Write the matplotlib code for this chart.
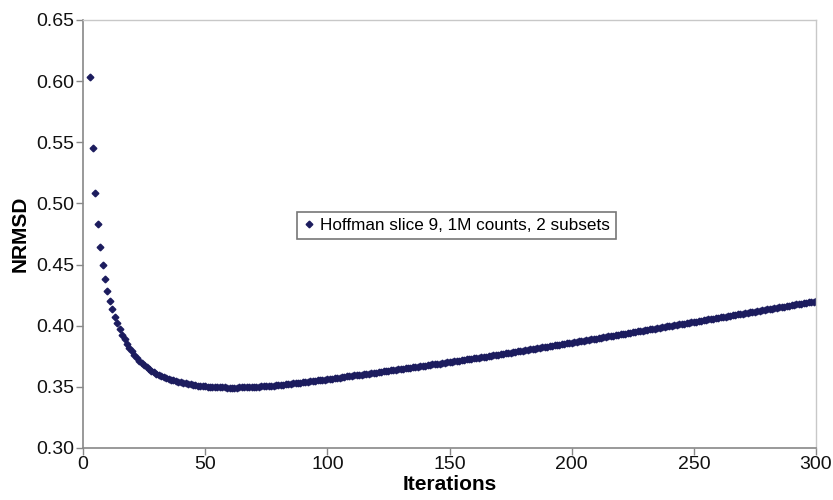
import matplotlib
matplotlib.use('Agg')
from matplotlib import pyplot as plt

# NRMSD per iteration (iterations 3..300)
iterations = list(range(3, 301))
nrmsd = [
    0.6030, 0.5450, 0.5085, 0.4830, 0.4643, 0.4500, 0.4385, 0.4287,
    0.4205, 0.4136, 0.4074, 0.4020, 0.3970, 0.3927, 0.3888, 0.3853, 0.3820, 0.3790,
    0.3762, 0.3737, 0.3714, 0.3694, 0.3676, 0.3660, 0.3645, 0.3632, 0.3620, 0.3609,
    0.3599, 0.3590, 0.3582, 0.3574, 0.3567, 0.3560, 0.3554, 0.3548, 0.3542, 0.3537,
    0.3532, 0.3528, 0.3524, 0.3520, 0.3517, 0.3514, 0.3511, 0.3508, 0.3506, 0.3504,
    0.3502, 0.3500, 0.3499, 0.3498, 0.3497, 0.3496, 0.3495, 0.3495, 0.3494, 0.3494,
    0.3494, 0.3494, 0.3494, 0.3495, 0.3495, 0.3496, 0.3497, 0.3497, 0.3498, 0.3499,
    0.3500, 0.3501, 0.3503, 0.3504, 0.3506, 0.3508, 0.3509, 0.3511, 0.3513, 0.3515,
    0.3517, 0.3519, 0.3521, 0.3524, 0.3526, 0.3528, 0.3531, 0.3533, 0.3535, 0.3538,
    0.3540, 0.3543, 0.3545, 0.3548, 0.3550, 0.3553, 0.3555, 0.3558, 0.3560, 0.3563,
    0.3566, 0.3568, 0.3571, 0.3574, 0.3576, 0.3579, 0.3582, 0.3585, 0.3587, 0.3590,
    0.3593, 0.3595, 0.3598, 0.3601, 0.3604, 0.3606, 0.3609, 0.3612, 0.3614, 0.3617,
    0.3620, 0.3623, 0.3626, 0.3628, 0.3631, 0.3634, 0.3637, 0.3640, 0.3642, 0.3645,
    0.3648, 0.3651, 0.3654, 0.3657, 0.3660, 0.3662, 0.3665, 0.3668, 0.3671, 0.3674,
    0.3677, 0.3680, 0.3683, 0.3686, 0.3689, 0.3691, 0.3694, 0.3697, 0.3700, 0.3703,
    0.3706, 0.3709, 0.3712, 0.3715, 0.3718, 0.3721, 0.3724, 0.3727, 0.3730, 0.3733,
    0.3736, 0.3739, 0.3742, 0.3745, 0.3748, 0.3752, 0.3755, 0.3758, 0.3761, 0.3764,
    0.3767, 0.3770, 0.3774, 0.3777, 0.3780, 0.3783, 0.3786, 0.3790, 0.3793, 0.3796,
    0.3799, 0.3803, 0.3806, 0.3809, 0.3812, 0.3816, 0.3819, 0.3822, 0.3826, 0.3829,
    0.3832, 0.3836, 0.3839, 0.3842, 0.3845, 0.3849, 0.3852, 0.3855, 0.3859, 0.3862,
    0.3865, 0.3869, 0.3872, 0.3875, 0.3879, 0.3882, 0.3885, 0.3889, 0.3892, 0.3895,
    0.3898, 0.3902, 0.3905, 0.3909, 0.3912, 0.3915, 0.3919, 0.3922, 0.3926, 0.3929,
    0.3932, 0.3936, 0.3939, 0.3943, 0.3946, 0.3949, 0.3953, 0.3956, 0.3960, 0.3963,
    0.3966, 0.3970, 0.3973, 0.3977, 0.3980, 0.3983, 0.3987, 0.3990, 0.3994, 0.3997,
    0.4000, 0.4004, 0.4007, 0.4011, 0.4014, 0.4017, 0.4021, 0.4024, 0.4028, 0.4031,
    0.4034, 0.4038, 0.4041, 0.4045, 0.4048, 0.4051, 0.4055, 0.4058, 0.4062, 0.4065,
    0.4068, 0.4072, 0.4075, 0.4079, 0.4082, 0.4085, 0.4089, 0.4092, 0.4096, 0.4099,
    0.4102, 0.4106, 0.4109, 0.4113, 0.4116, 0.4119, 0.4123, 0.4126, 0.4130, 0.4133,
    0.4136, 0.4140, 0.4143, 0.4147, 0.4150, 0.4153, 0.4157, 0.4160, 0.4164, 0.4167,
    0.4170, 0.4174, 0.4177, 0.4181, 0.4184, 0.4187, 0.4191, 0.4194, 0.4198, 0.4201,
]
x_ticks = [0, 50, 100, 150, 200, 250, 300]
y_ticks = [0.30, 0.35, 0.40, 0.45, 0.50, 0.55, 0.60, 0.65]
series_label = 'Hoffman slice 9, 1M counts, 2 subsets'

plt.rcParams['font.family'] = ['Liberation Sans', 'DejaVu Sans']

fig = plt.figure(figsize=(8.33, 5), dpi=100)
ax = fig.add_axes([83 / 833, 1 - 448 / 500, 733 / 833, 428 / 500])

ax.plot(iterations, nrmsd, linestyle='none', marker='D', markersize=3.4,
        color='#1c1c5e', label=series_label)

ax.set_xlim(0, 300)
ax.set_ylim(0.30, 0.65)
ax.set_xticks(x_ticks)
ax.set_yticks(y_ticks)
ax.set_yticklabels(['%.2f' % v for v in y_ticks])
ax.tick_params(axis='both', direction='out', length=5, width=1, color='#888888',
               labelsize=14, labelcolor='#111111')
ax.tick_params(axis='x', pad=1)
ax.tick_params(axis='y', pad=1)

for side in ['left', 'bottom']:
    ax.spines[side].set_color('#888888')
    ax.spines[side].set_linewidth(1.2)
for side in ['top', 'right']:
    ax.spines[side].set_color('#c8c8c8')
    ax.spines[side].set_linewidth(1.0)

ax.set_xlabel('Iterations', fontsize=15, fontweight='bold', labelpad=1)
ax.set_ylabel('NRMSD', fontsize=15, fontweight='bold', labelpad=5)

leg = ax.legend(loc='center', bbox_to_anchor=(0.509, 0.519), fontsize=12.3,
                frameon=True, fancybox=False, shadow=False, handletextpad=0.2,
                handlelength=0.8, borderpad=0.35, markerscale=1.0)
leg.get_frame().set_edgecolor('#555555')
leg.get_frame().set_linewidth(1.2)

plt.savefig('out.png', dpi=100)
